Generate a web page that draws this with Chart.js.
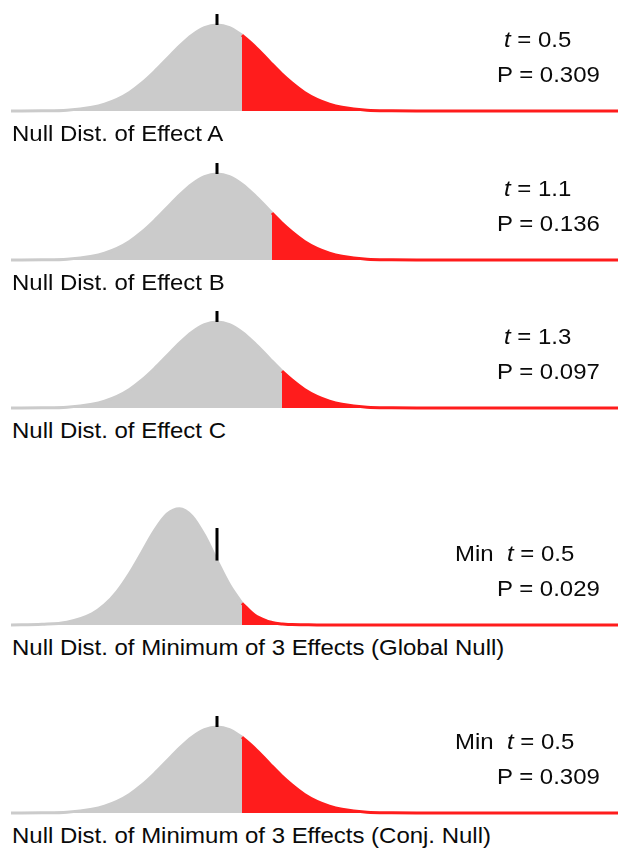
<!DOCTYPE html>
<html><head><meta charset="utf-8">
<script src="https://cdn.jsdelivr.net/npm/chart.js@4.4.1/dist/chart.umd.min.js"></script>
<style>
html,body{margin:0;padding:0;background:#fff;width:618px;height:850px;overflow:hidden;}
#wrap{position:relative;width:618px;height:850px;}
canvas{position:absolute;}
.txt{position:absolute;z-index:5;font-family:"Liberation Sans",Arial,Helvetica,sans-serif;font-size:22.5px;line-height:22px;color:#0a0a0a;white-space:pre;transform:scaleX(1.065);transform-origin:0 0;}
</style></head><body><div id="wrap"></div>
<script>
// ---- data ----
const xGrid = [-4.12,-3.5,-3,-2.5,-2.25,-2,-1.75,-1.5,-1.25,-1,-0.75,-0.5,-0.25,0,0.25,0.5,0.75,1,1.1,1.25,1.3,1.5,1.75,2,2.25,2.5,3,3.5,4,5,8.02];
const nullDensity = [0.000,0.001,0.004,0.018,0.032,0.054,0.086,0.130,0.183,0.242,0.301,0.352,0.387,0.399,0.387,0.352,0.301,0.242,0.218,0.183,0.171,0.130,0.086,0.054,0.032,0.018,0.004,0.001,0.000,0.000,0.000];
const minDensity = [0.000,0.003,0.013,0.052,0.093,0.155,0.239,0.338,0.438,0.514,0.540,0.505,0.416,0.299,0.187,0.101,0.046,0.018,0.012,0.006,0.005,0.002,0.001,0.000,0.000,0.000,0.000,0.000,0.000,0.000,0.000];
const panelLabels = ["Null Dist. of Effect A","Null Dist. of Effect B","Null Dist. of Effect C","Null Dist. of Minimum of 3 Effects (Global Null)","Null Dist. of Minimum of 3 Effects (Conj. Null)"];
const tValues = [0.5, 1.1, 1.3, 0.5, 0.5];
const pValues = ["0.309","0.136","0.097","0.029","0.309"];
const statPrefix = ["","","","Min","Min"];
const distKind = ["null","null","null","min","null"];
const tickTop = 0.45;

// ---- layout ----
const baselines = [111, 260, 408, 625, 813];
const PX_PER_DENS = 215.5;
const plotLeft = 11, plotRight = 618;
const xMin = -4.12, xMax = 8.02;
const GRAY = '#cbcbcb', RED = '#ff1c1c';

const wrap = document.getElementById('wrap');

function addText(html, left, baselineY){
  const d = document.createElement('div');
  d.className = 'txt';
  d.innerHTML = html;
  d.style.left = left + 'px';
  d.style.top = (baselineY - 19) + 'px';
  wrap.appendChild(d);
}

baselines.forEach((base, i) => {
  const top = Math.max(0, base - 125);
  const bottom = base + 4;
  const cv = document.createElement('canvas');
  cv.width = plotRight - plotLeft;
  cv.height = bottom - top;
  cv.style.left = plotLeft + 'px';
  cv.style.top = top + 'px';
  cv.style.width = cv.width + 'px';
  cv.style.height = cv.height + 'px';
  wrap.appendChild(cv);

  const dens = distKind[i] === 'min' ? minDensity : nullDensity;
  const pts = xGrid.map((x, k) => ({x: x, y: dens[k]}));
  const t = tValues[i];
  const grayPts = pts.filter(p => p.x <= t);
  const redPts = pts.filter(p => p.x >= t);
  const y0 = dens[xGrid.indexOf(0)];

  new Chart(cv, {
    type: 'line',
    data: {
      datasets: [
        {data: [{x:0,y:y0},{x:0,y:tickTop}], borderColor:'#000', borderWidth:3, pointRadius:0, fill:false, order:0, borderCapStyle:'butt'},
        {data: redPts, borderColor: RED, backgroundColor: RED, borderWidth:3, pointRadius:0, fill:'origin', cubicInterpolationMode:'monotone', order:1},
        {data: grayPts, borderColor: GRAY, backgroundColor: GRAY, borderWidth:3, pointRadius:0, fill:'origin', cubicInterpolationMode:'monotone', order:2}
      ]
    },
    options: {
      responsive:false, animation:false, devicePixelRatio:1,
      layout:{padding:0},
      plugins:{legend:{display:false}, tooltip:{enabled:false}, title:{display:false}},
      events:[],
      scales:{
        x:{type:'linear', min:xMin, max:xMax, display:false},
        y:{type:'linear', min:-(bottom-base)/PX_PER_DENS, max:(base-top)/PX_PER_DENS, display:false}
      }
    }
  });

  // annotation texts
  if (statPrefix[i]) {
    addText(statPrefix[i] + '\u00a0\u00a0<i>t</i> = ' + t.toFixed(1), 455, base - 63);
  } else {
    addText('<i>t</i> = ' + t.toFixed(1), 504, base - 63);
  }
  addText('P = ' + pValues[i], 497, base - 28);
  addText(panelLabels[i], 12, base + 31);
});
</script>
</body></html>
